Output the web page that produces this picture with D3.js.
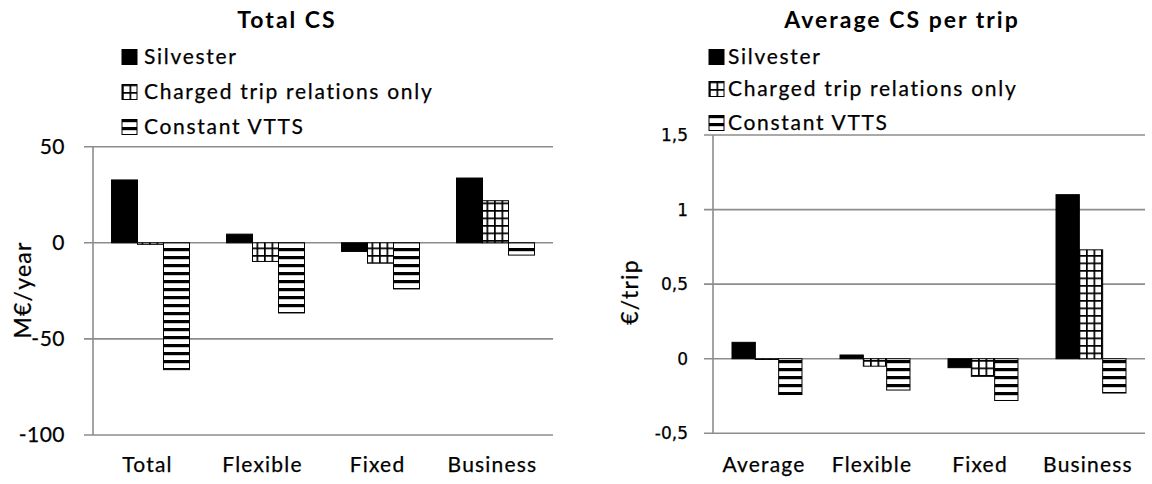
<!DOCTYPE html>
<html>
<head>
<meta charset="utf-8">
<script src="https://cdn.jsdelivr.net/npm/d3@7"></script>
<style>
  html, body { margin: 0; padding: 0; background: #fff; }
  svg { display: block; }
  text { font-family: Lato, "Open Sans", sans-serif; fill: #000; }
  text.reg { stroke: #000; stroke-width: 0.25px; }
</style>
</head>
<body>
<svg id="chart" width="1152" height="484"></svg>
<script>
// ---------- DATA ----------
const seriesNames = ["Silvester", "Charged trip relations only", "Constant VTTS"];

const totalCategories = ["Total", "Flexible", "Fixed", "Business"];
const totalSilvester = [32.7, 4.5, -4.5, 33.7];
const totalCharged   = [-0.8, -9.7, -10.6, 21.9];
const totalConstant  = [-66, -36.5, -24, -6.4];
const totalTicks      = [50, 0, -50, -100];
const totalTickLabels = ["50", "0", "-50", "-100"];

const avgCategories = ["Average", "Flexible", "Fixed", "Business"];
const avgSilvester = [0.11, 0.025, -0.06, 1.1];
const avgCharged   = [-0.005, -0.05, -0.118, 0.73];
const avgConstant  = [-0.24, -0.21, -0.28, -0.23];
const avgTicks      = [1.5, 1, 0.5, 0, -0.5];
const avgTickLabels = ["1,5", "1", "0,5", "0", "-0,5"];

// ---------- SETUP ----------
const svg = d3.select("#chart");
const defs = svg.append("defs");

// grid pattern (Charged trip relations only)
const pGrid = defs.append("pattern").attr("id", "pGrid")
  .attr("patternUnits", "userSpaceOnUse").attr("width", 7.5).attr("height", 7.5);
pGrid.append("rect").attr("width", 7.5).attr("height", 7.5).attr("fill", "#fff");
pGrid.append("rect").attr("x", 0).attr("y", 0).attr("width", 1.7).attr("height", 7.5).attr("fill", "#000");
pGrid.append("rect").attr("x", 0).attr("y", 0).attr("width", 7.5).attr("height", 1.7).attr("fill", "#000");

// horizontal stripes (Constant VTTS)
const pStripe = defs.append("pattern").attr("id", "pStripe")
  .attr("patternUnits", "userSpaceOnUse").attr("width", 8).attr("height", 8);
pStripe.append("rect").attr("width", 8).attr("height", 8).attr("fill", "#fff");
pStripe.append("rect").attr("x", 0).attr("y", 0).attr("width", 8).attr("height", 3.2).attr("fill", "#000");

const fills = ["#000", "url(#pGrid)", "url(#pStripe)"];
const GRID = "#8c8c8c";

function drawChart(cfg) {
  const g = svg.append("g");
  const y = d3.scaleLinear().domain(cfg.domain).range(cfg.yRange);
  const x0 = d3.scaleBand().domain(cfg.categories).range(cfg.xRange)
    .paddingInner(cfg.pad).paddingOuter(cfg.pad / 2);
  const x1 = d3.scaleBand().domain(seriesNames).range([0, x0.bandwidth()]);

  // gridlines + tick marks
  g.selectAll("line.grid").data(cfg.ticks).join("line")
    .attr("class", "grid")
    .attr("x1", cfg.xRange[0] - 9).attr("x2", cfg.xRange[1])
    .attr("y1", d => y(d)).attr("y2", d => y(d))
    .attr("stroke", GRID).attr("stroke-width", 1.6);

  // vertical axis
  g.append("line")
    .attr("x1", cfg.xRange[0]).attr("x2", cfg.xRange[0])
    .attr("y1", y(cfg.domain[1])).attr("y2", y(cfg.domain[0]))
    .attr("stroke", GRID).attr("stroke-width", 1.6);

  // tick labels
  g.selectAll("text.tick").data(cfg.ticks).join("text")
    .attr("class", "tick reg")
    .attr("x", cfg.tickLabelX).attr("y", d => y(d))
    .attr("dy", "0.35em").attr("text-anchor", "end")
    .style("font-family", cfg.tickFont).style("font-size", cfg.tickSize)
    .style("letter-spacing", cfg.tickSpacing)
    .text((d, i) => cfg.tickLabels[i]);

  // bars
  const rows = cfg.categories.map((c, i) => ({
    cat: c,
    vals: cfg.series.map((s, k) => ({ name: seriesNames[k], v: s[i], k }))
  }));
  const grp = g.selectAll("g.cat").data(rows).join("g")
    .attr("class", "cat")
    .attr("transform", d => `translate(${x0(d.cat)},0)`);
  grp.selectAll("rect").data(d => d.vals).join("rect")
    .attr("x", d => x1(d.name))
    .attr("width", x1.bandwidth())
    .attr("y", d => y(Math.max(0, d.v)))
    .attr("height", d => Math.abs(y(d.v) - y(0)))
    .attr("fill", d => fills[d.k])
    .attr("stroke", "#000").attr("stroke-width", 1);

  // category labels
  g.selectAll("text.catl").data(cfg.categories).join("text")
    .attr("class", "catl reg")
    .attr("x", d => x0(d) + x0.bandwidth() / 2 - 3).attr("y", 472)
    .attr("text-anchor", "middle")
    .style("font-size", "21px").style("letter-spacing", "1.2px")
    .text(d => d);

  // y title
  g.append("text")
    .attr("class", "reg")
    .attr("transform", `translate(${cfg.yTitleX},${cfg.yTitleY}) rotate(-90)`)
    .attr("text-anchor", "middle")
    .style("font-size", "23px").style("letter-spacing", "1.2px")
    .text(cfg.yTitle);

  // chart title
  g.append("text")
    .attr("x", cfg.titleX).attr("y", 28)
    .attr("text-anchor", "middle")
    .style("font-size", "23px").style("font-weight", "bold")
    .style("letter-spacing", "2px")
    .text(cfg.title);

  // legend
  const leg = g.selectAll("g.leg").data(seriesNames).join("g")
    .attr("class", "leg")
    .attr("transform", (d, i) => `translate(${cfg.legX},${cfg.legY[i]})`);
  leg.append("rect")
    .attr("x", 0).attr("y", -7.5).attr("width", 15).attr("height", 15)
    .attr("fill", (d, i) => fills[i]).attr("stroke", "#000").attr("stroke-width", 1);
  leg.append("text")
    .attr("class", "reg")
    .attr("x", cfg.legTextDx).attr("y", 0).attr("dy", "0.35em")
    .style("font-size", "21px").style("letter-spacing", "1.7px")
    .text(d => d);
}

drawChart({
  categories: totalCategories,
  series: [totalSilvester, totalCharged, totalConstant],
  domain: [-100, 50], yRange: [435, 146.7],
  xRange: [93, 553], pad: 0.322,
  ticks: totalTicks, tickLabels: totalTickLabels,
  tickLabelX: 65, tickFont: "Lato, sans-serif", tickSize: "21px", tickSpacing: "0.5px",
  yTitle: "M€/year", yTitleX: 31, yTitleY: 290,
  title: "Total CS", titleX: 287,
  legX: 122, legY: [57, 92, 127], legTextDx: 22
});

drawChart({
  categories: avgCategories,
  series: [avgSilvester, avgCharged, avgConstant],
  domain: [-0.5, 1.5], yRange: [433.3, 135],
  xRange: [713, 1145], pad: 0.352,
  ticks: avgTicks, tickLabels: avgTickLabels,
  tickLabelX: 688, tickFont: "'DejaVu Sans', sans-serif", tickSize: "17px", tickSpacing: "0px",
  yTitle: "€/trip", yTitleX: 638, yTitleY: 292,
  title: "Average CS per trip", titleX: 902,
  legX: 709, legY: [57, 89, 123], legTextDx: 19
});
</script>
</body>
</html>
